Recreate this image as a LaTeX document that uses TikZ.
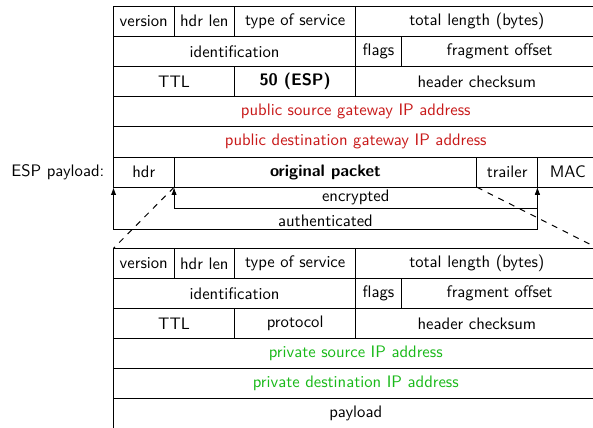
\documentclass[tikz,border=0pt]{standalone}
\usetikzlibrary{arrows.meta}
\definecolor{pubred}{RGB}{200,25,25}
\definecolor{privgreen}{RGB}{25,185,25}
% one cell of a header table, given by its corners (x1,y1)-(x2,y2)
\newcommand\hcell[6]{%
  \node[cell, minimum width={(#4-#2)*0.6pt}, minimum height={(#5-#3)*0.6pt}]
    (#1) at ({(#2+#4)/2},{(#3+#5)/2}) {#6};}
\begin{document}
\begin{tikzpicture}[x=0.6pt,y=-0.6pt,font=\sffamily,
  cell/.style={draw=black,semithick,rectangle,inner sep=0pt,outer sep=0pt},
  arr/.style={semithick,{Latex[length=4.6pt,width=3.2pt]}-{Latex[length=4.6pt,width=3.2pt]}},
  zoomline/.style={semithick,dash pattern=on 3.6pt off 3.6pt},
  lbl/.style={inner sep=1.5pt}]
\useasboundingbox (0,0) rectangle (593,427);
\clip (0,0) rectangle (593,427);
% column borders (4 bits = 60.56 px)
\def\cA{113.5}\def\cB{174.06}\def\cC{234.62}\def\cD{355.74}\def\cE{401.16}
\def\cF{476.86}\def\cG{537.42}\def\cH{597.98}
% outer IP header with ESP payload
\hcell{ver}{\cA}{6}{\cB}{36.2}{version}
\hcell{hlen}{\cB}{6}{\cC}{36.2}{hdr len}
\hcell{tos}{\cC}{6}{\cD}{36.2}{type of service}
\hcell{tot}{\cD}{6}{\cH}{36.2}{total length (bytes)}
\hcell{ident}{\cA}{36.2}{\cD}{66.4}{identification}
\hcell{flags}{\cD}{36.2}{\cE}{66.4}{flags}
\hcell{frag}{\cE}{36.2}{\cH}{66.4}{fragment offset}
\hcell{ttl}{\cA}{66.4}{\cC}{96.6}{TTL}
\hcell{proto}{\cC}{66.4}{\cD}{96.6}{\bfseries 50 (ESP)}
\hcell{csum}{\cD}{66.4}{\cH}{96.6}{header checksum}
\hcell{src}{\cA}{96.6}{\cH}{126.8}{\color{pubred}public source gateway IP address}
\hcell{dst}{\cA}{126.8}{\cH}{157}{\color{pubred}public destination gateway IP address}
\hcell{hdr}{\cA}{157}{\cB}{187.2}{hdr}
\hcell{orig}{\cB}{157}{\cF}{187.2}{\bfseries original packet}
\hcell{trailer}{\cF}{157}{\cG}{187.2}{trailer}
\hcell{mac}{\cG}{157}{\cH}{187.2}{MAC}
\node[anchor=east] (esplabel) at ([xshift=-2pt]hdr.west) {ESP payload:};
% inner (original) IP packet
\hcell{iver}{\cA}{248.3}{\cB}{278.4}{version}
\hcell{ihlen}{\cB}{248.3}{\cC}{278.4}{hdr len}
\hcell{itos}{\cC}{248.3}{\cD}{278.4}{type of service}
\hcell{itot}{\cD}{248.3}{\cH}{278.4}{total length (bytes)}
\hcell{iident}{\cA}{278.4}{\cD}{308.5}{identification}
\hcell{iflags}{\cD}{278.4}{\cE}{308.5}{flags}
\hcell{ifrag}{\cE}{278.4}{\cH}{308.5}{fragment offset}
\hcell{ittl}{\cA}{308.5}{\cC}{338.6}{TTL}
\hcell{iproto}{\cC}{308.5}{\cD}{338.6}{protocol}
\hcell{icsum}{\cD}{308.5}{\cH}{338.6}{header checksum}
\hcell{isrc}{\cA}{338.6}{\cH}{368.7}{\color{privgreen}private source IP address}
\hcell{idst}{\cA}{368.7}{\cH}{398.8}{\color{privgreen}private destination IP address}
\hcell{ipay}{\cA}{398.8}{\cH}{428.9}{payload}
% encrypted / authenticated ranges
\draw[arr] (hdr.south east) -- ++(0,21) coordinate (encL)
  -| node[lbl,pos=0.25,above] {encrypted} (trailer.south east);
\draw[arr] (hdr.south west) -- ++(0,42) coordinate (authL)
  -| node[lbl,pos=0.25,above] {authenticated} (trailer.south east);
% the original packet expanded below
\draw[zoomline] (hdr.south east) -- (iver.north west);
\draw[zoomline] (trailer.south west) -- (itot.north east);
\end{tikzpicture}
\end{document}
